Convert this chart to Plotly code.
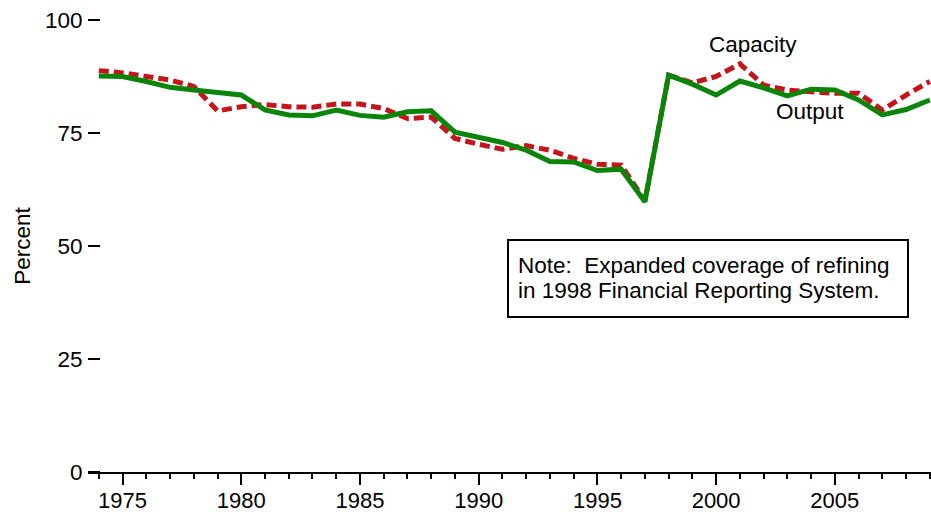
import plotly.graph_objects as go

years = list(range(1974, 2010))
capacity = [88.8, 88.3, 87.5, 86.7, 85.3, 79.9, 80.8, 81.3, 80.8, 80.7, 81.4, 81.4,
            80.4, 78.2, 78.5, 73.8, 72.5, 71.4, 72.2, 71.2, 69.4, 68.1, 67.9, 60.0,
            87.8, 86.1, 87.5, 90.3, 85.6, 84.5, 84.1, 83.8, 83.8, 80.1, 83.4, 86.4]
output = [87.6, 87.5, 86.4, 85.1, 84.5, 84.0, 83.4, 80.1, 79.0, 78.8, 80.1, 78.9,
          78.5, 79.7, 79.9, 75.2, 74.0, 72.9, 71.2, 68.7, 68.6, 66.7, 67.0, 59.8,
          87.8, 85.8, 83.4, 86.5, 85.0, 83.2, 84.7, 84.5, 82.3, 79.0, 80.2, 82.3]
y_ticks = [0, 25, 50, 75, 100]
x_ticks = [1975, 1980, 1985, 1990, 1995, 2000, 2005]

FONT = "Liberation Sans, Arial, sans-serif"
FS = 22.5
RED = "#C4141C"
GREEN = "#0A850A"

fig = go.Figure()
fig.add_trace(go.Scatter(x=years, y=capacity, mode="lines", name="Capacity",
                         line=dict(color=RED, width=5, dash="10px,5px")))
fig.add_trace(go.Scatter(x=years, y=output, mode="lines", name="Output",
                         line=dict(color=GREEN, width=5)))

W, H = 931, 512
L, R, T, B = 88, 0, 20, 40
x0, x1 = 1973.545, 2009.05
y0, y1 = 0, 100

def px_to_x(px):
    return x0 + (px - L) / (W - L - R) * (x1 - x0)

def py_to_y(py):
    return y1 - (py - T) / (H - T - B) * (y1 - y0)

fig.update_layout(
    width=W, height=H,
    margin=dict(l=L, r=R, t=T, b=B, pad=0),
    paper_bgcolor="white", plot_bgcolor="white",
    showlegend=False,
    font=dict(family=FONT, size=FS, color="black"),
    xaxis=dict(range=[x0, x1], tickvals=x_ticks, ticks="outside", ticklen=11,
               tickwidth=2, tickcolor="black", showline=True, linecolor="black",
               linewidth=2, showgrid=False, zeroline=False, automargin=False,
               tickfont=dict(size=22), domain=[0, 1], ticklabelstandoff=-3,
               minor=dict(dtick=1, tick0=1974, ticks="outside", ticklen=5,
                          tickwidth=2, tickcolor="black", showgrid=False)),
    yaxis=dict(range=[y0, y1], tickvals=y_ticks, ticks="outside", ticklen=12,
               tickwidth=2, tickcolor="black", showline=False, showgrid=False,
               zeroline=False, tickfont=dict(size=FS), automargin=False,
               anchor="free", position=12 / (W - L - R), ticklabelstandoff=1,
               title=dict(text="Percent", font=dict(size=FS), standoff=7)),
)

# Note box
fig.add_shape(type="rect", xref="x", yref="y",
              x0=px_to_x(508), x1=px_to_x(908), y0=py_to_y(317), y1=py_to_y(240),
              line=dict(color="black", width=2), fillcolor="white", layer="above")
fig.add_annotation(x=px_to_x(516), y=py_to_y(265), xref="x", yref="y",
                   text="Note:  Expanded coverage of refining", showarrow=False,
                   xanchor="left", yanchor="middle", font=dict(size=FS))
fig.add_annotation(x=px_to_x(516), y=py_to_y(290), xref="x", yref="y",
                   text="in 1998 Financial Reporting System.", showarrow=False,
                   xanchor="left", yanchor="middle", font=dict(size=FS))

# Series labels
fig.add_annotation(x=px_to_x(752.5), y=py_to_y(44), xref="x", yref="y",
                   text="Capacity", showarrow=False, font=dict(size=FS))
fig.add_annotation(x=px_to_x(809.5), y=py_to_y(111), xref="x", yref="y",
                   text="Output", showarrow=False, font=dict(size=FS))

fig.write_html("out.html", config={"displayModeBar": False},
               post_script="document.body.style.margin='0px';document.body.style.overflow='hidden';")
